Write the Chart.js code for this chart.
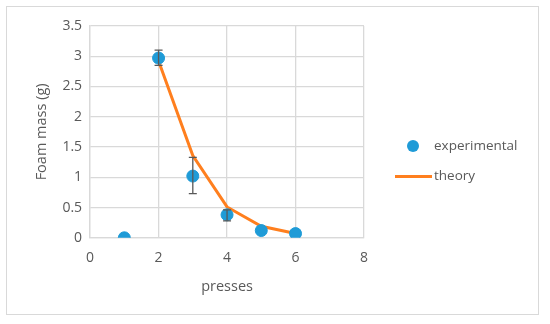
<!DOCTYPE html>
<html><head><meta charset="utf-8">
<script src="https://cdn.jsdelivr.net/npm/chart.js@4"></script>
<style>
html,body{margin:0;padding:0;background:#fff;}
#wrap{position:relative;width:550px;height:324px;}
#frame{position:absolute;left:6px;top:6px;width:533px;height:309px;border:1px solid #d9d9d9;box-sizing:border-box;}
canvas{position:absolute;left:0;top:0;}
.leg{position:absolute;font-family:"Open Sans","Liberation Sans",sans-serif;font-size:13.5px;color:#595959;}
</style></head>
<body><div id="wrap"><div id="frame"></div><canvas id="c" width="550" height="324"></canvas>
<div class="leg" style="left:407px;top:136px;"><span style="display:inline-block;width:12px;height:12px;border-radius:50%;background:#1f9bd7;vertical-align:middle;margin-right:15px;"></span>experimental</div>
<div class="leg" style="left:395px;top:166px;"><span style="display:inline-block;width:37px;height:3px;background:#ff7f1e;vertical-align:middle;margin-right:2px;"></span>theory</div>
</div>
<script>
const expX = [1, 2, 3, 4, 5, 6];
const expY = [0, 2.97, 1.02, 0.38, 0.12, 0.07];
const errLow = [0, 2.85, 0.73, 0.28, 0.12, 0.07];
const errHigh = [0, 3.10, 1.33, 0.46, 0.12, 0.07];
const theoryX = [2, 3, 4, 5, 6];
const theoryY = [2.92, 1.36, 0.51, 0.19, 0.07];

const errorBars = {
  id: 'errorBars',
  afterDatasetsDraw(chart) {
    const ctx = chart.ctx, xs = chart.scales.x, ys = chart.scales.y;
    ctx.save();
    ctx.strokeStyle = '#595959';
    ctx.lineWidth = 1.3;
    for (let i = 0; i < expX.length; i++) {
      if (errHigh[i] - errLow[i] < 0.02) continue;
      const px = xs.getPixelForValue(expX[i]);
      const y1 = ys.getPixelForValue(errLow[i]);
      const y2 = ys.getPixelForValue(errHigh[i]);
      ctx.beginPath();
      ctx.moveTo(px, y1); ctx.lineTo(px, y2);
      ctx.moveTo(px - 4, y1); ctx.lineTo(px + 4, y1);
      ctx.moveTo(px - 4, y2); ctx.lineTo(px + 4, y2);
      ctx.stroke();
    }
    ctx.restore();
  }
};

const font = {family: '"Open Sans","Liberation Sans",sans-serif', size: 14};
new Chart(document.getElementById('c'), {
  type: 'scatter',
  data: {
    datasets: [
      {
        label: 'theory', type: 'line',
        data: theoryX.map((x, i) => ({x, y: theoryY[i]})),
        borderColor: '#ff7f1e', borderWidth: 3, pointRadius: 0, fill: false, tension: 0, order: 2
      },
      {
        label: 'experimental',
        data: expX.map((x, i) => ({x, y: expY[i]})),
        backgroundColor: '#1f9bd7', borderColor: '#1f9bd7', pointRadius: 6, pointHoverRadius: 6, order: 1
      }
    ]
  },
  options: {
    responsive: false, animation: false,
    layout: {padding: {left: 33, right: 186, top: 26, bottom: 28}},
    plugins: {legend: {display: false}, tooltip: {enabled: false}},
    scales: {
      x: {
        type: 'linear', min: 0, max: 8,
        ticks: {stepSize: 2, color: '#595959', font, padding: 12},
        grid: {color: '#d9d9d9', lineWidth: 1.3, drawTicks: false},
        border: {color: '#d9d9d9', width: 1.3},
        title: {display: true, text: 'presses', color: '#595959', font: {...font, size: 14.5}, padding: {top: 0, bottom: 0}}
      },
      y: {
        min: 0, max: 3.5,
        ticks: {stepSize: 0.5, color: '#595959', font, padding: 8, callback: v => String(v)},
        grid: {color: '#d9d9d9', lineWidth: 1.3, drawTicks: false},
        border: {color: '#d9d9d9', width: 1.3},
        title: {display: true, text: 'Foam mass (g)', color: '#595959', font: {...font, size: 14.5}, padding: {top: 0, bottom: 4}}
      }
    }
  },
  plugins: [errorBars]
});
</script></body></html>
